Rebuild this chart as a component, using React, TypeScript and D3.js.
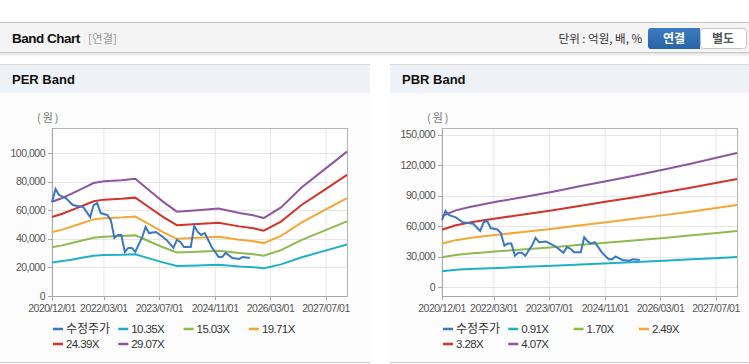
import React from 'react';
import * as d3 from 'd3';

// tick labels
const xTickLabels = ['2020/12/01', '2022/03/01', '2023/07/01', '2024/11/01', '2026/03/01', '2027/07/01'];
const perTicks = [0, 20000, 40000, 60000, 80000, 100000];
const pbrTicks = [0, 30000, 60000, 90000, 120000, 150000];

// 수정주가 (monthly)
const priceDates = ['2020-12', '2021-01', '2021-02', '2021-04', '2021-06', '2021-09', '2021-11', '2021-12', '2022-01', '2022-02',
  '2022-04', '2022-05', '2022-06', '2022-07', '2022-08', '2022-09', '2022-10', '2022-11', '2022-12', '2023-02',
  '2023-03', '2023-04', '2023-06', '2023-08', '2023-09', '2023-11', '2023-12', '2024-01', '2024-02', '2024-04',
  '2024-05', '2024-06', '2024-07', '2024-08', '2024-09', '2024-10', '2024-12', '2025-01', '2025-02', '2025-04',
  '2025-06', '2025-07', '2025-09'];
const priceValues = [65700, 74800, 70600, 68500, 63600, 62200, 55200, 63600, 65000, 58000,
  56600, 53100, 40600, 42700, 42700, 30800, 33600, 33600, 30800, 41300,
  48300, 44000, 44800, 41300, 39200, 33600, 39200, 37800, 34300, 34300,
  49000, 44800, 42700, 44000, 39200, 34300, 27300, 27300, 30100, 26600,
  25900, 27300, 26600];

// PER band
const perDates = ['2020-12', '2021-03', '2021-06', '2021-09', '2021-12', '2022-03', '2022-08', '2022-12', '2023-04', '2023-08',
  '2023-12', '2024-06', '2024-12', '2025-06', '2025-10', '2026-01', '2026-06', '2026-12', '2027-06', '2028-01'];
const per1035 = [23500, 24400, 25600, 26900, 28100, 28600, 28800, 29200, 26300, 23500,
  21000, 21400, 21800, 20600, 20100, 19400, 22100, 27100, 31200, 36000];
const per1503 = [34100, 35400, 37200, 39000, 40800, 41500, 41900, 42400, 38300, 34100,
  30500, 31000, 31600, 30000, 29200, 28200, 32100, 39300, 45200, 52200];
const per1971 = [44700, 46400, 48800, 51200, 53600, 54400, 54900, 55600, 50200, 44700,
  40000, 40700, 41500, 39300, 38300, 37000, 42000, 51500, 59300, 68500];
const per2439 = [55300, 57500, 60400, 63300, 66300, 67400, 68000, 68800, 62100, 55400,
  49500, 50300, 51300, 48700, 47400, 45700, 52000, 63800, 73400, 84700];
const per2907 = [65900, 68500, 72000, 75500, 79000, 80300, 81000, 82000, 74000, 66000,
  59000, 60000, 61200, 58000, 56500, 54500, 62000, 76000, 87500, 101000];

// PBR band
const pbrDates = ['2020-12', '2021-04', '2021-08', '2021-12', '2022-04', '2022-12', '2023-08', '2024-04', '2024-12', '2025-08',
  '2026-04', '2026-12', '2027-08', '2028-01'];
const pbr091 = [15600, 16900, 17600, 18200, 18800, 19900, 21000, 22200, 23400, 24600, 25800, 27200, 28600, 29500];
const pbr170 = [29200, 31500, 32900, 34000, 35100, 37100, 39200, 41500, 43700, 45900, 48200, 50800, 53400, 55100];
const pbr249 = [42700, 46100, 48100, 49900, 51400, 54300, 57400, 60800, 64000, 67300, 70700, 74300, 78200, 80600];
const pbr328 = [56300, 60800, 63400, 65700, 67700, 71600, 75600, 80000, 84300, 88600, 93100, 97900, 103000, 106200];
const pbr407 = [69800, 75400, 78700, 81500, 84000, 88800, 93800, 99300, 104600, 110000, 115500, 121500, 127800, 131800];

const perNames = ['수정주가', '10.35X', '15.03X', '19.71X', '24.39X', '29.07X'];
const pbrNames = ['수정주가', '0.91X', '1.70X', '2.49X', '3.28X', '4.07X'];
const colors = ['#3a78c4', '#1fb0c9', '#8fba4c', '#f5a733', '#d2342c', '#8f55a0'];

const parseM = d3.timeParse('%Y-%m');
const parseD = d3.timeParse('%Y/%m/%d');
const fmt = d3.format(',');

type Pt = { date: Date; value: number };
const zip = (dates: string[], vals: number[]): Pt[] => dates.map((d, i) => ({ date: parseM(d) as Date, value: vals[i] }));

function BandPanel({ x0, title, yTicks, yDomain, bands, names }: any) {
  const left = x0 + 52;
  const right = x0 + 347;
  const top = 128;
  const bottom = 296;

  const x = d3.scaleTime().domain([parseM('2020-12') as Date, parseM('2028-01') as Date]).range([left, right]);
  const y = d3.scaleLinear().domain(yDomain).range([bottom, top]);
  const line = d3.line<Pt>().x((d) => x(d.date)).y((d) => y(d.value));

  const xTicks = xTickLabels.map((s) => parseD(s) as Date);
  const series: Pt[][] = bands;

  return (
    <g>
      {/* grid */}
      {xTicks.map((t, i) => (
        <line key={'gx' + i} x1={x(t)} x2={x(t)} y1={top} y2={bottom} stroke="#e6e6e6" />
      ))}
      {yTicks.map((t: number, i: number) => (
        <line key={'gy' + i} x1={left} x2={right} y1={Math.round(y(t)) + 0.5} y2={Math.round(y(t)) + 0.5} stroke="#e6e6e6" />
      ))}
      <rect x={left + 0.5} y={top + 0.5} width={right - left} height={bottom - top} fill="none" stroke="#b4b4b4" />
      <line x1={left + 0.5} x2={left + 0.5} y1={top} y2={bottom} stroke="#a8a8a8" />
      <line x1={left} x2={right} y1={bottom + 0.5} y2={bottom + 0.5} stroke="#a8a8a8" />

      {/* y axis */}
      {yTicks.map((t: number, i: number) => (
        <g key={'yt' + i}>
          <line x1={left - 4} x2={left} y1={Math.round(y(t)) + 0.5} y2={Math.round(y(t)) + 0.5} stroke="#a8a8a8" />
          <text x={left - 7} y={y(t) + 3.5} textAnchor="end" fontSize={10.5} fill="#555" letterSpacing={-0.5}>
            {fmt(t)}
          </text>
        </g>
      ))}
      <text x={x0 + 37} y={122} fontSize={11} fill="#777" letterSpacing={2} fontFamily="'Noto Sans CJK KR'">
        (원)
      </text>

      {/* x axis */}
      {xTicks.map((t, i) => (
        <g key={'xt' + i}>
          <line x1={Math.round(x(t)) + 0.5} x2={Math.round(x(t)) + 0.5} y1={bottom} y2={bottom + 4} stroke="#a8a8a8" />
          <text x={x(t)} y={312} textAnchor="middle" fontSize={10.5} fill="#555" letterSpacing={-0.5}>
            {xTickLabels[i]}
          </text>
        </g>
      ))}

      {/* lines */}
      {series.slice(1).map((s, i) => (
        <path key={'b' + i} d={line(s) || ''} fill="none" stroke={colors[i + 1]} strokeWidth={2} />
      ))}
      <path d={line(series[0]) || ''} fill="none" stroke={colors[0]} strokeWidth={2} />

      {/* legend */}
      {names.map((n: string, i: number) => {
        const lx = x0 + 53 + (i % 4) * 65.3;
        const ly = i < 4 ? 329 : 344;
        return (
          <g key={'lg' + i}>
            <line x1={lx} x2={lx + 10} y1={ly} y2={ly} stroke={colors[i]} strokeWidth={2.5} />
            <text x={lx + 13} y={ly + 4} fontSize={i === 0 ? 12 : 11.5} fill="#333" letterSpacing={i === 0 ? 0 : -0.6}
              fontFamily={i === 0 ? "'Noto Sans CJK KR'" : undefined}>
              {n}
            </text>
          </g>
        );
      })}
      <text x={x0 + 12} y={84} fontSize={13} fontWeight="bold" fill="#111">
        {title}
      </text>
    </g>
  );
}

export default function App() {
  const price = zip(priceDates, priceValues);
  const perBands = [price, zip(perDates, per1035), zip(perDates, per1503), zip(perDates, per1971), zip(perDates, per2439), zip(perDates, per2907)];
  const pbrBands = [price, zip(pbrDates, pbr091), zip(pbrDates, pbr170), zip(pbrDates, pbr249), zip(pbrDates, pbr328), zip(pbrDates, pbr407)];

  return (
    <div style={{ position: 'absolute', left: 0, top: 0 }}>
      <svg width={749} height={364} style={{ display: 'block', fontFamily: "'Liberation Sans', Arial, sans-serif" }}>
        <defs>
          <linearGradient id="btn" x1="0" y1="0" x2="0" y2="1">
            <stop offset="0" stopColor="#3b7cc2" />
            <stop offset="1" stopColor="#2763a6" />
          </linearGradient>
          <linearGradient id="shadow" x1="0" y1="0" x2="0" y2="1">
            <stop offset="0" stopColor="#000" stopOpacity={0.12} />
            <stop offset="1" stopColor="#000" stopOpacity={0} />
          </linearGradient>
        </defs>
        <rect width={749} height={364} fill="#fff" />

        {/* top header */}
        <rect x={0} y={22} width={749} height={31} fill="#f4f4f4" />
        <line x1={0} x2={749} y1={22.5} y2={22.5} stroke="#c4c4c4" />
        <line x1={0} x2={749} y1={52.5} y2={52.5} stroke="#c8c8c8" />
        <rect x={0} y={53} width={749} height={4} fill="url(#shadow)" />
        <text x={12} y={43} fontSize={13.5} fontWeight="bold" fill="#111" letterSpacing={-0.5}>
          Band Chart
        </text>
        <text x={88} y={43} fontSize={11.5} fill="#999" fontFamily="'Noto Sans CJK KR'">
          [연결]
        </text>
        <text x={642} y={43} textAnchor="end" fontSize={11.5} fill="#333" fontFamily="'Noto Sans CJK KR'">
          단위 : 억원, 배, %
        </text>
        <rect x={700.5} y={28.5} width={46} height={20} rx={3} fill="#fff" stroke="#c4c4c4" />
        <path d="M651,28 H700 V49 H651 A3,3 0 0 1 648,46 V31 A3,3 0 0 1 651,28 Z" fill="url(#btn)" />
        <text x={674} y={43} textAnchor="middle" fontSize={12} fontWeight="bold" fill="#fff" fontFamily="'Noto Sans CJK KR'">
          연결
        </text>
        <text x={723} y={43} textAnchor="middle" fontSize={12} fontWeight="bold" fill="#555" fontFamily="'Noto Sans CJK KR'">
          별도
        </text>

        {/* panels */}
        {[0, 390].map((px) => (
          <g key={px}>
            <rect x={px} y={93} width={px === 0 ? 370 : 359} height={269} fill="#fcfcfc" />
            <rect x={px} y={64} width={px === 0 ? 370 : 359} height={29} fill="#eef2f7" />
            <line x1={px} x2={px === 0 ? 370 : 749} y1={64.5} y2={64.5} stroke="#d6d6d6" />
            <line x1={px} x2={px === 0 ? 370 : 749} y1={362.5} y2={362.5} stroke="#cccccc" />
          </g>
        ))}
        <rect x={52} y={128} width={295} height={168} fill="#fff" />
        <rect x={442} y={128} width={295} height={168} fill="#fff" />

        <BandPanel x0={0} title="PER Band" yTicks={perTicks} yDomain={[0, 117500]} bands={perBands} names={perNames} />
        <BandPanel x0={390} title="PBR Band" yTicks={pbrTicks} yDomain={[-8850, 156400]} bands={pbrBands} names={pbrNames} />
      </svg>
    </div>
  );
}
